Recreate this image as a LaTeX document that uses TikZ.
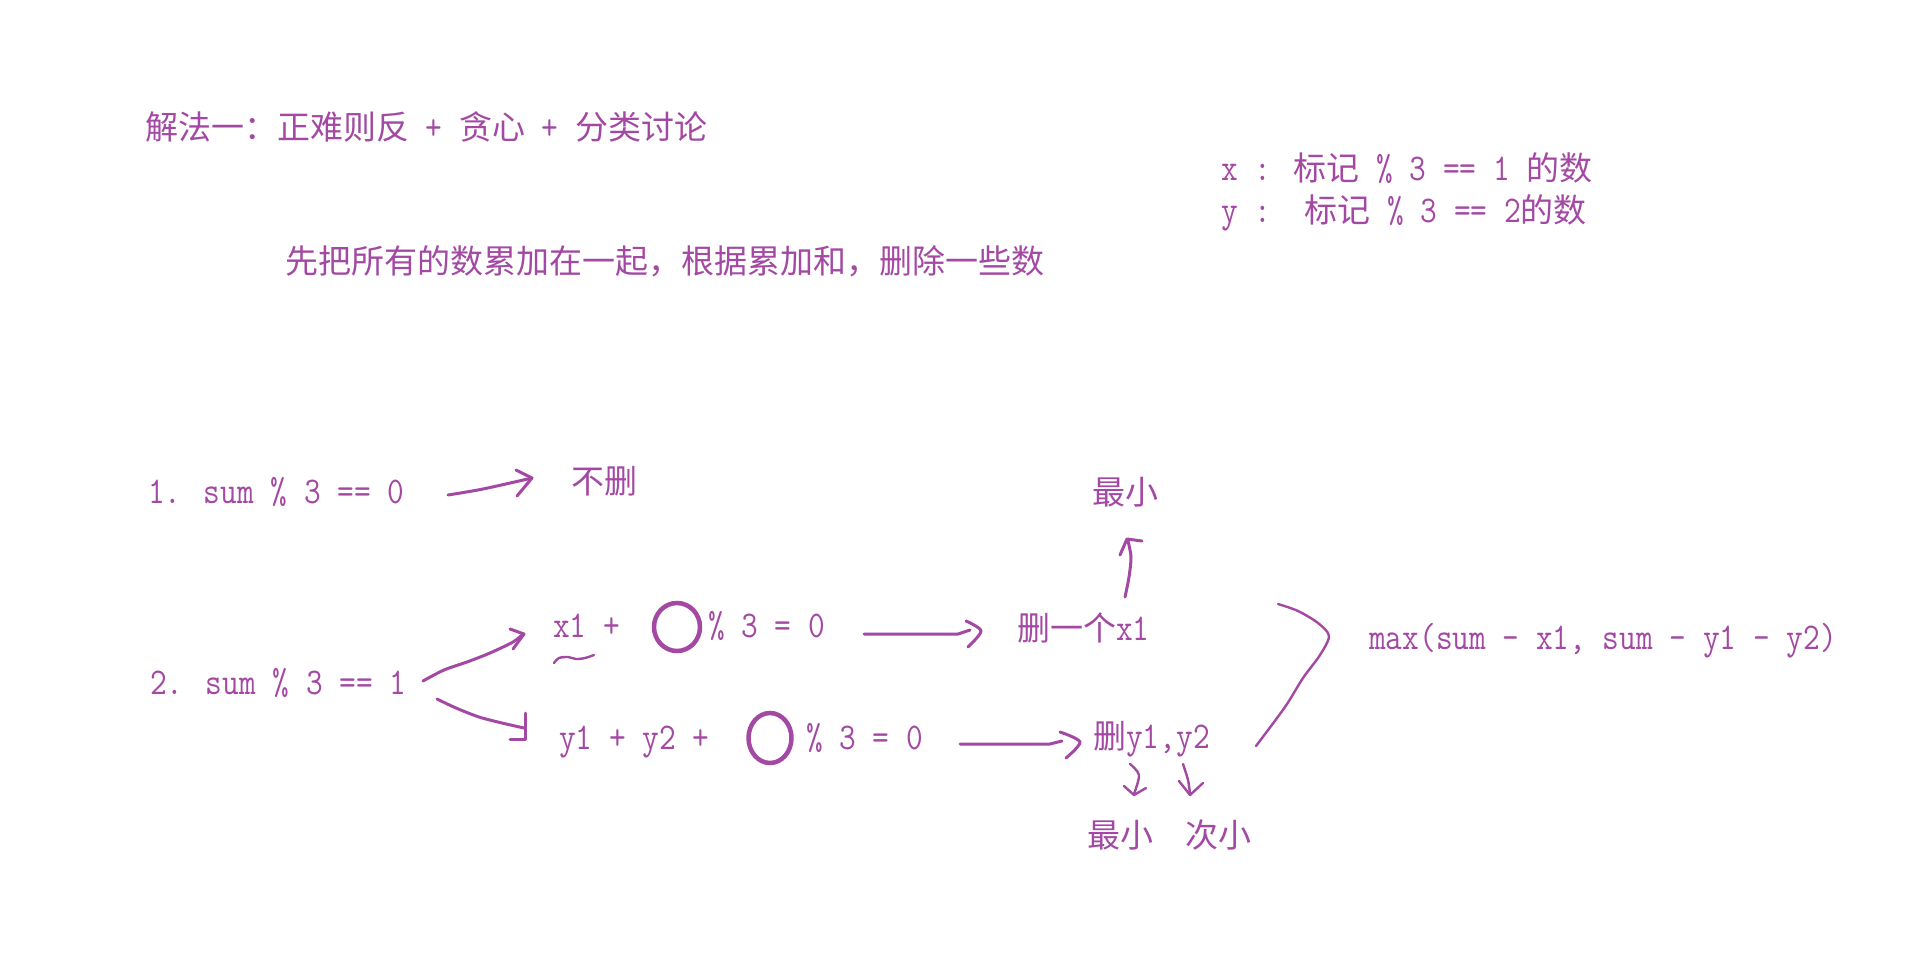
\documentclass[tikz,border=0pt]{standalone}
\usepackage{fontspec}
\newfontfamily\latf[FakeStretch=0.86]{Latin Modern Mono}
\newfontfamily\cjkf{Noto Sans CJK SC}
\newcommand\zh[1]{{\cjkf\fontsize{33}{40}\selectfont #1}}
\definecolor{ink}{RGB}{163,73,164}
\tikzset{
  txt/.style={anchor=base west, inner sep=0pt, text=ink, font=\latf\fontsize{37.7}{40}\selectfont},
  pen/.style={draw=ink, line width=3pt, line cap=round, line join=round},
  thinpen/.style={draw=ink, line width=2.4pt, line cap=round, line join=round},
  ring/.style={draw=ink, line width=4.5pt}
}
\begin{document}
\begin{tikzpicture}[x=1pt,y=-1pt]
\fill[white] (0,0) rectangle (1925,964);
\useasboundingbox (0,0) rectangle (1925,964);
% header
\node[txt] (title) at (145,139) {\zh{解法一：正难则反} + \zh{贪心} + \zh{分类讨论}};
\node[txt] (idea) at (285,273) {\zh{先把所有的数累加在一起，根据累加和，删除一些数}};
\node[txt] (legx) at (1221,180) {x : \zh{标记} \% 3 == 1 \zh{的数}};
\node[txt] (legy) at (1221,222) {y :\ \ \zh{标记} \% 3 == 2\zh{的数}};
% case 1
\node[txt] (c1) at (148,503) {1. sum \% 3 == 0};
\node[txt] (nodel) at (571,493) {\zh{不删}};
\draw[pen] plot[smooth] coordinates {(448,495) (483,489) (532,478)};
\draw[pen] (516,470) -- (532,478) -- (517,496);
% case 2
\node[txt] (c2) at (150,694) {2. sum \% 3 == 1};
\node[txt] (xa) at (553,637) {x1 +};
\draw[ring] (677,627) ellipse [x radius=23, y radius=24];
\node[txt] (xb) at (708,637) {\% 3 = 0};
\node[txt] (ya) at (559,749) {y1 + y2 +};
\draw[ring] (770,738) ellipse [x radius=21.5, y radius=25];
\node[txt] (yb) at (806,749) {\% 3 = 0};
% branch arrows
\draw[pen] plot[smooth] coordinates {(423,681) (444,670) (467,662) (490,653) (513,642) (523,634)};
\draw[pen] (510,629) -- (524,634) -- (513,649);
\draw[pen] plot[smooth] coordinates {(437,699) (456,708) (479,717) (502,723) (524,728)};
\draw[pen] (525,713) -- (525,739) -- (510,739);
% squiggle under x1
\draw[thinpen] plot[smooth] coordinates {(554,663) (559,658) (568,657) (576,659) (585,658) (594,655)};
% result arrows
\draw[pen] (864,634) -- (958,634) -- (970,630);
\draw[pen] plot[smooth] coordinates {(966,621) (981,631) (968,647)};
\draw[pen] (960,744) -- (1050,744) -- (1062,741);
\draw[pen] plot[smooth] coordinates {(1060,732) (1080,742) (1066,758)};
\node[txt] (delx) at (1017,640) {\zh{删一个}x1};
\node[txt] (dely) at (1093,748) {\zh{删}y1,y2};
\node[txt] (minx) at (1092,504) {\zh{最小}};
\node[txt] (miny) at (1087,847) {\zh{最小}};
\node[txt] (secy) at (1185,847) {\zh{次小}};
% up arrow
\draw[pen] plot[smooth] coordinates {(1125,597) (1129,577) (1131,557) (1128,541)};
\draw[pen] (1120,555) -- (1127,539) -- (1142,541);
% down arrows
\draw[thinpen] plot[smooth] coordinates {(1130,764) (1139,775) (1134,794)};
\draw[thinpen] (1124,786) -- (1134,795) -- (1146,788);
\draw[thinpen] plot[smooth] coordinates {(1183,764) (1188,780) (1190,794)};
\draw[thinpen] (1179,781) -- (1190,795) -- (1203,783);
% bracket
\draw[thinpen] plot[smooth] coordinates {(1278,604) (1298,611) (1318,623) (1329,636) (1320,655) (1303,678) (1285,707) (1256,746)};
\node[txt] (maxf) at (1369,649) {max(sum - x1, sum - y1 - y2)};
\end{tikzpicture}
\end{document}
